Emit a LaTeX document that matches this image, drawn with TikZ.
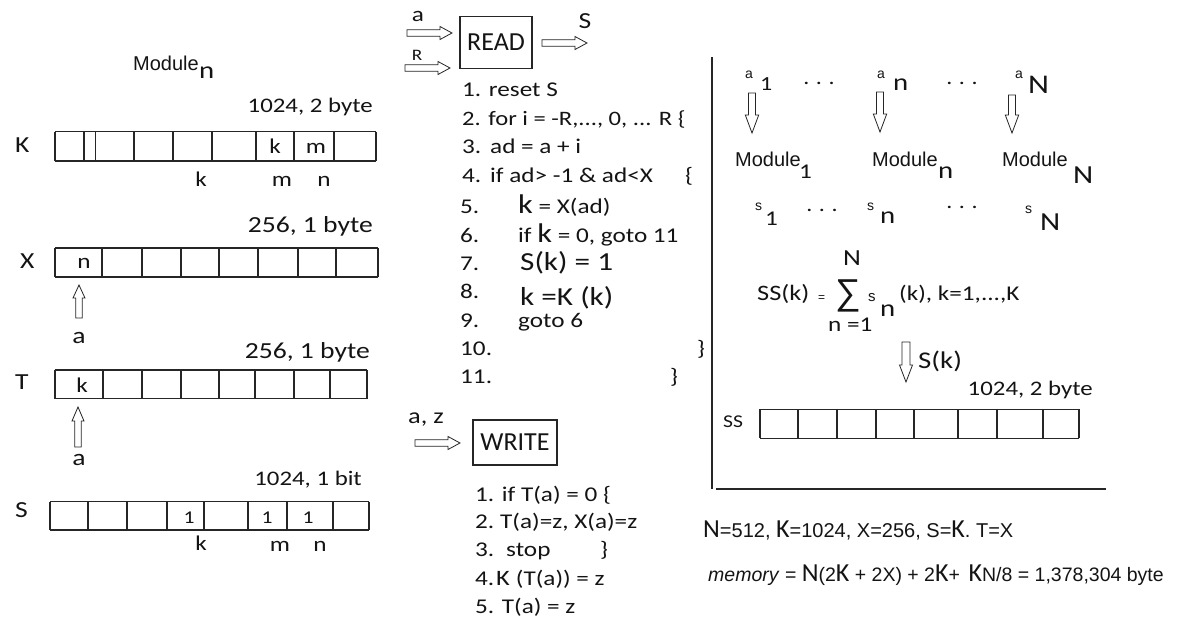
\documentclass[tikz,border=0pt]{standalone}
\usepackage{fontspec}
\setmainfont{Carlito}[FakeStretch=1.2]
\newfontfamily\cbn{Carlito}
\newfontfamily\ar{Liberation Sans}
\newcommand\fsz[1]{\fontsize{#1}{#1}\selectfont}
\definecolor{ink}{HTML}{141414}
\definecolor{gridc}{HTML}{262626}
\tikzset{
  t/.style={inner sep=0pt, text=ink, anchor=base west},
  te/.style={inner sep=0pt, text=ink, anchor=base east},
  tc/.style={inner sep=0pt, text=ink, anchor=base},
  cell/.style={draw=gridc, line width=1.1pt},
  frame/.style={draw=gridc, line width=1.1pt},
  box/.style={draw=gridc, line width=1.1pt},
  arrline/.style={draw=gridc, line width=0.8pt, fill=white, line join=miter},
  modl/.style={t, font=\ar\fsz{20}},
  pics/blk/.style n args={4}{code={\draw[arrline] (0,-#4)--({#1-#2},-#4)--({#1-#2},-#3)--(#1,0)--({#1-#2},#3)--({#1-#2},#4)--(0,#4)--cycle;}}
}
\begin{document}
\begin{tikzpicture}[x=1pt,y=-1pt]
\useasboundingbox (0,0) rectangle (1189,619);
\fill[white] (0,0) rectangle (1189,619);

% ---------------- left column ----------------
\node[modl] (modn) at (133,70) {Module};
\node[t, font=\fsz{24}] (modnsub) at (199,78) {n};

\node[te, font=\fsz{20.7}] (kcap) at (373,112) {1024, 2 byte};
\node[t, font=\fsz{23}] (klab) at (15,152) {K};
\draw[cell] (55,131.7) -- (376,131.7) (55,161) -- (376,161);
\foreach \xx in {55,84,95.7,134,173,212,256,294,334,376} \draw[cell] (\xx,131.7) -- (\xx,161);
\node[tc, font=\fsz{21}] (kk) at (275,153.3) {k};
\node[tc, font=\fsz{21}] (km) at (316,153.3) {m};
\node[tc, font=\fsz{21}] (kbk) at (201,186) {k};
\node[tc, font=\fsz{21}] (kbm) at (282,186.5) {m};
\node[tc, font=\fsz{21}] (kbn) at (324,186.5) {n};

\node[te, font=\fsz{23}] (xcap) at (373,232) {256, 1 byte};
\node[t, font=\fsz{23}] (xlab) at (20,268) {X};
\draw[cell] (55,248) -- (378,248) (55,277) -- (378,277);
\foreach \xx in {55,102,142,181,219,258,298,336,378} \draw[cell] (\xx,248) -- (\xx,277);
\node[tc, font=\fsz{21}] (xn) at (84,268) {n};
\pic[rotate=90] at (79,318) {blk={33}{13}{6}{3.2}};
\node[tc, font=\fsz{23}] (xa) at (79,343) {a};

\node[te, font=\fsz{23}] (tcap) at (370,358) {256, 1 byte};
\node[t, font=\fsz{23}] (tlab) at (15,389) {T};
\draw[cell] (55,370) -- (367,370) (55,398.5) -- (367,398.5);
\foreach \xx in {55,103,142,181,219,255,294,330,367} \draw[cell] (\xx,370) -- (\xx,398.5);
\node[tc, font=\fsz{21}] (tk) at (82,392) {k};
\pic[rotate=90] at (78,447) {blk={40}{14}{6}{3.2}};
\node[tc, font=\fsz{23}] (ta) at (79,465) {a};

\node[te, font=\fsz{20.7}] (scap) at (362,485) {1024, 1 bit};
\node[t, font=\fsz{23}] (slab) at (15,517) {S};
\draw[cell] (50,501.7) -- (369,501.7) (50,530) -- (369,530);
\foreach \xx in {50,88,127,167,204,248,287,333,369} \draw[cell] (\xx,501.7) -- (\xx,530);
\node[tc, font=\fsz{18}] (s1a) at (189,523) {1};
\node[tc, font=\fsz{18}] (s1b) at (267,523) {1};
\node[tc, font=\fsz{18}] (s1c) at (308,523) {1};
\node[tc, font=\fsz{21}] (sbk) at (201,550) {k};
\node[tc, font=\fsz{21}] (sbm) at (280,551.5) {m};
\node[tc, font=\fsz{21}] (sbn) at (320,551.5) {n};

% ---------------- READ ----------------
\node[tc, font=\fsz{21}] (ra) at (418,21.7) {a};
\pic at (407,33) {blk={45}{12}{6.5}{3.2}};
\node[tc, font=\fsz{16}] (rR) at (417,60) {R};
\pic at (405,68) {blk={45}{12}{6.5}{3.2}};
\node[box, minimum width=72pt, minimum height=51.6pt, inner sep=0pt, font=\cbn\fsz{26}, text=ink] (read) at (496,42.5) {READ};
\pic at (542,43) {blk={45}{12}{6.5}{3.2}};
\node[tc, font=\fsz{23}] (rs) at (585,28) {S};

\begin{scope}[every node/.style={t, font=\fsz{21}}]
\node (r1) at (462,96.7) {1. reset S};
\node[font=\fsz{20.5}] (r2) at (462,125) {2. for i = -R,..., 0, ... R \{};
\node (r3n) at (462,153) {3.};
\node (r3) at (490,153) {ad = a + i};
\node (r4n) at (462,182) {4.};
\node (r4) at (490,182) {if ad> -1 \& ad<X};
\node (r4b) at (685,182) {\{};
\node (r5n) at (460,213) {5.};
\node (r5) at (518,213) {{\fsz{27}k} = X(ad)};
\node (r6n) at (460,242) {6.};
\node (r6) at (518,242) {if {\fsz{27}k} = 0, goto 11};
\node (r7n) at (460,270) {7.};
\node[font=\fsz{26}] (r7) at (520,270) {S(k) = 1};
\node (r8n) at (460,298) {8.};
\node[font=\fsz{26}] (r8) at (520,305) {k =K (k)};
\node (r9n) at (460,327) {9.};
\node (r9) at (518,327) {goto 6};
\node (r10n) at (460,355) {10.};
\node (r10b) at (697,355) {\}};
\node (r11n) at (460,383) {11.};
\node (r11b) at (670,383) {\}};
\end{scope}

% ---------------- WRITE ----------------
\node[t, font=\fsz{22}] (waz) at (408,423) {a, z};
\pic at (415,443) {blk={45}{12}{6.5}{3.2}};
\node[box, minimum width=84pt, minimum height=45pt, inner sep=0pt, font=\cbn\fsz{26}, text=ink] (write) at (515,442.5) {WRITE};
\begin{scope}[every node/.style={t, font=\fsz{21}}]
\node (w1) at (475,501.7) {1. if T(a) = 0 \{};
\node (w2n) at (475,528) {2.};
\node (w2) at (500,528) {T(a)=z, X(a)=z};
\node (w3n) at (475,556.7) {3.};
\node (w3) at (506,556.7) {stop};
\node (w3b) at (600,556.7) {\}};
\node (w4n) at (475,585) {4.};
\node[font=\fsz{22}] (w4) at (496,585) {K {\fsz{21}(T(a)) = z}};
\node (w5) at (475,613) {5. T(a) = z};
\end{scope}

% ---------------- right frame ----------------
\draw[frame] (712,57) -- (712,489);
\draw[frame] (716,489) -- (1106,489);

% a_1 ... a_N
\node[t, font=\ar\fsz{14}] (a1a) at (745,78) {a};
\node[t, font=\fsz{20}] (a1s) at (760,90) {1};
\node[inner sep=0pt, font=\fsz{20}, text=ink] (d1) at (819,83) {.\,\,.\,\,.};
\node[t, font=\ar\fsz{14}] (ana) at (877,78) {a};
\node[t, font=\fsz{24}] (ans) at (893,90) {n};
\node[inner sep=0pt, font=\fsz{20}, text=ink] (d2) at (962,83) {.\,\,.\,\,.};
\node[t, font=\ar\fsz{14}] (aNa) at (1015,78) {a};
\node[t, font=\fsz{27}] (aNs) at (1028,93) {N};

\pic[rotate=-90] at (752,93) {blk={40}{18}{6.7}{3.5}};
\pic[rotate=-90] at (880,92) {blk={40}{18}{6.7}{3.5}};
\pic[rotate=-90] at (1012,95) {blk={38}{18}{6.7}{3.5}};

\node[modl] (m1) at (735,166.7) {Module};
\node[t, font=\fsz{21}] (m1s) at (799,178) {1};
\node[modl] (mn) at (872,166.7) {Module};
\node[t, font=\fsz{24}] (mns) at (938,178) {n};
\node[modl] (mN) at (1002,166.7) {Module};
\node[t, font=\fsz{26}] (mNs) at (1073,183) {N};

\node[t, font=\ar\fsz{14}] (s1) at (755,210) {s};
\node[t, font=\fsz{21}] (s1s) at (765,225) {1};
\node[inner sep=0pt, font=\fsz{20}, text=ink] (d3) at (822,210) {.\,\,.\,\,.};
\node[t, font=\ar\fsz{14}] (sn) at (867,210) {s};
\node[t, font=\fsz{24}] (sns) at (880,223) {n};
\node[inner sep=0pt, font=\fsz{20}, text=ink] (d4) at (962,207) {.\,\,.\,\,.};
\node[t, font=\ar\fsz{14}] (sN) at (1025,213) {s};
\node[t, font=\fsz{26}] (sNs) at (1040,230) {N};

% sum
\node[t, font=\fsz{23}] (sumN) at (843,265) {N};
\node[t, font=\fsz{22}] (ssk) at (757,300) {SS(k)};
\node[t, font=\ar\fsz{12}] (eq) at (818,301) {=};
\node[t, font=\ar\fsz{36}] (sig) at (835,304) {∑};
\node[t, font=\ar\fsz{15}] (sums) at (868,301.7) {s};
\node[t, font=\fsz{24}] (sumn) at (880,316.7) {n};
\node[t, font=\fsz{21}] (sumr) at (899,300) {(k), k=1,...,K};
\node[t, font=\fsz{21}] (sumlow) at (828,331.7) {n =1};
\pic[rotate=-90] at (906,342) {blk={40}{17}{6.5}{4}};
\node[t, font=\fsz{24}] (sk) at (918,368) {S(k)};
\node[te, font=\fsz{20.7}] (sscap) at (1093,395) {1024, 2 byte};
\node[t, font=\fsz{18}] (sslab) at (723,427) {SS};
\draw[cell] (760,409.3) -- (1079,409.3) (760,438.3) -- (1079,438.3);
\foreach \xx in {760,798,837,876,914,958,997,1043,1079} \draw[cell] (\xx,409.3) -- (\xx,438.3);

% bottom formulas
\node[t, font=\ar\fsz{20}] (params) at (703,537) {{\cbn\fsz{26}N}=512, {\cbn\fsz{26}K}=1024, X=256, S={\cbn\fsz{26}K}. T=X};
\node[t, font=\ar\fsz{19.5}] (mem) at (708,581.7) {\textit{memory} = {\cbn\fsz{26}N}(2{\cbn\fsz{26}K} + 2X) + 2{\cbn\fsz{26}K}+ \,{\cbn\fsz{26}K}N/8 = 1,378,304 byte};
\end{tikzpicture}
\end{document}
